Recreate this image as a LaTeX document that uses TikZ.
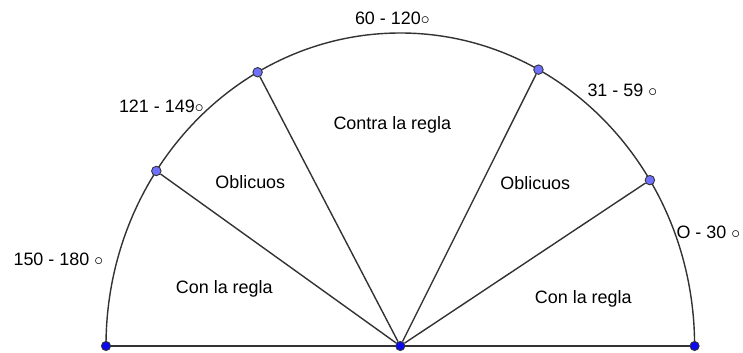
\documentclass[tikz,border=0pt]{standalone}
\usepackage{fontspec}
\setmainfont{Liberation Sans}
\usepackage{tikz}
\usetikzlibrary{positioning}
\definecolor{edgeGrey}{HTML}{333333}
\definecolor{baseBlue}{HTML}{0A0AF0}
\definecolor{arcBlue}{HTML}{7070FF}

\begin{document}
\begin{tikzpicture}[
    basedot/.style={circle, draw=edgeGrey, fill=baseBlue, inner sep=0pt,
                    minimum size=5.2pt, line width=0.5pt},
    arcdot/.style={circle, draw=edgeGrey, fill=arcBlue, inner sep=0pt,
                   minimum size=5.4pt, line width=0.5pt},
    ray/.style={draw=edgeGrey, line width=0.8pt},
    zone/.style={font=\fontsize{10.2}{12}\selectfont, inner sep=0pt},
]
\useasboundingbox (-8.006,-0.12) rectangle (6.854,6.92);

% Arc and diameter
\draw[ray] (-5.886,0) -- (5.886,0);
\draw[ray] (5.886,0) arc[start angle=0, end angle=180,
                          x radius=5.886cm, y radius=6.26cm];

% Base points
\node[basedot] (left) at (-5.886,0) {};
\node[basedot] (centre) at (0,0) {};
\node[basedot] (right) at (5.886,0) {};

% Points on the arc
\node[arcdot] (p30) at ({5.886*cos(32)},{6.26*sin(32)}) {};
\node[arcdot] (p60) at ({5.886*cos(62)},{6.26*sin(62)}) {};
\node[arcdot] (p120) at ({5.886*cos(119)},{6.26*sin(119)}) {};
\node[arcdot] (p150) at ({5.886*cos(146)},{6.26*sin(146)}) {};

% Rays
\draw[ray] (centre) -- (p30);
\draw[ray] (centre) -- (p60);
\draw[ray] (centre) -- (p120);
\draw[ray] (centre) -- (p150);

% Angle ranges
\node[zone] (r60) at (-0.16,6.56) {60 - 120$\circ$};
\node[zone] (r121) at (-4.78,4.80) {121 - 149$\circ$};
\node[zone] (r31) at (4.44,5.12) {31 - 59 $\circ$};
\node[zone] (r150) at (-6.84,1.74) {150 - 180 $\circ$};
\node[zone] (r0) at (6.16,2.28) {O - 30 $\circ$};

% Sector names
\node[zone] (contra) at (-0.16,4.42) {Contra la regla};
\node[zone] (oblL) at (-3.0,3.28) {Oblicuos};
\node[zone] (oblR) at (2.70,3.26) {Oblicuos};
\node[zone] (conL) at (-3.52,1.14) {Con la regla};
\node[zone] (conR) at (3.66,0.94) {Con la regla};
\end{tikzpicture}
\end{document}
